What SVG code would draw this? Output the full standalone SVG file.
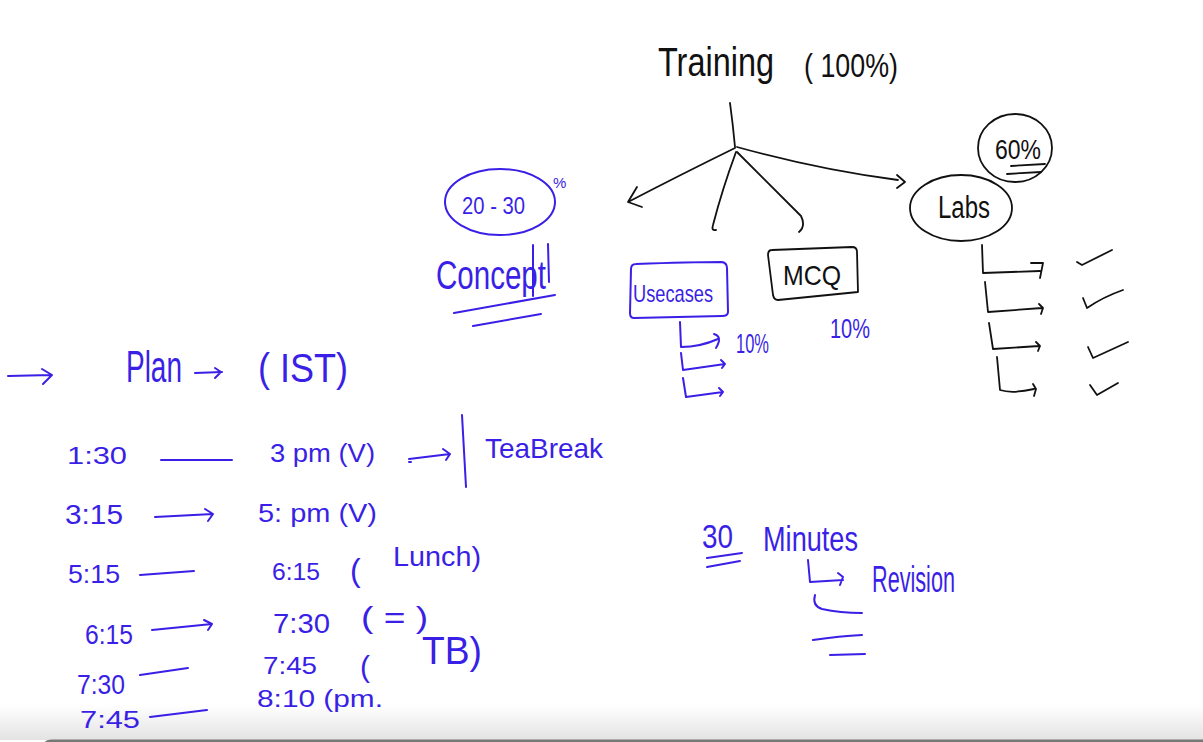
<svg xmlns="http://www.w3.org/2000/svg" width="1203" height="742" viewBox="0 0 1203 742">
<defs>
<linearGradient id="shade" x1="0" y1="0" x2="0" y2="1">
<stop offset="0" stop-color="#ffffff"/>
<stop offset="1" stop-color="#e3e3e3"/>
</linearGradient>
<style>
.b{fill:none;stroke:#3a1fe6;stroke-width:2;stroke-linecap:round;stroke-linejoin:round}
.k{fill:none;stroke:#111;stroke-width:1.8;stroke-linecap:round;stroke-linejoin:round}
.tb{fill:#3a1fe6;font-family:"Liberation Sans",Arial,sans-serif}
.tk{fill:#111;font-family:"Liberation Sans",Arial,sans-serif}
</style>
</defs>
<rect width="1203" height="742" fill="#ffffff"/>
<rect x="0" y="705" width="1203" height="35" fill="url(#shade)"/>
<path d="M45 742 Q46 739.5 52 739.5 L1203 739.5 L1203 742 Z" fill="#777"/>

<g id="training">
<text class="tk" x="658" y="76" font-size="40" textLength="116" lengthAdjust="spacingAndGlyphs">Training</text>
<text class="tk" x="804" y="77" font-size="34" textLength="94" lengthAdjust="spacingAndGlyphs">( 100%)</text>
</g>

<g id="labs">
<ellipse class="k" cx="961" cy="208" rx="51" ry="33"/>
<text class="tk" x="938" y="218" font-size="31" textLength="52" lengthAdjust="spacingAndGlyphs">Labs</text>
</g>

<g id="pct60">
<ellipse class="k" cx="1015" cy="148" rx="37" ry="34"/>
<text class="tk" x="995" y="159" font-size="28" textLength="46" lengthAdjust="spacingAndGlyphs">60%</text>
<path class="k" d="M1011 166 L1045 164 M1007 174 L1041 172"/>
</g>

<g id="usecases">
<path class="b" d="M636 264 Q690 262 722 262 Q727 263 727 268 L728 312 Q728 316 722 316 L634 318 Q630 318 630 313 L631 269 Q631 264 636 264 Z"/>
<text class="tb" x="633" y="302" font-size="24" textLength="80" lengthAdjust="spacingAndGlyphs">Usecases</text>
<text class="tb" x="736" y="353" font-size="27" textLength="33" lengthAdjust="spacingAndGlyphs">10%</text>
</g>

<g id="mcq">
<path class="k" d="M772 250 L852 247 Q857 247 857 252 L858 292 L778 300 Q774 300 773 295 L768 255 Q768 250 772 250 Z"/>
<text class="tk" x="783" y="285" font-size="28" textLength="58" lengthAdjust="spacingAndGlyphs">MCQ</text>
<text class="tb" x="830" y="338" font-size="28" textLength="40" lengthAdjust="spacingAndGlyphs">10%</text>
</g>

<g id="concept">
<ellipse class="b" cx="500" cy="202" rx="55" ry="33"/>
<text class="tb" x="462" y="214" font-size="24" textLength="63" lengthAdjust="spacingAndGlyphs">20 - 30</text>
<text class="tb" x="553" y="188" font-size="15">%</text>
<text class="tb" x="436" y="289" font-size="40" textLength="110" lengthAdjust="spacingAndGlyphs">Concept</text>
<path class="b" d="M533 245 L533 296 M548 244 L549 282 M454 313 L555 295 M473 326 L541 314"/>
</g>

<g id="plan">
<text class="tb" x="126" y="382" font-size="44" textLength="56" lengthAdjust="spacingAndGlyphs">Plan</text>
<text class="tb" x="258" y="382" font-size="40" textLength="90" lengthAdjust="spacingAndGlyphs">( IST)</text>
</g>

<g id="schedule">
<text class="tb" x="67" y="464" font-size="24" textLength="60" lengthAdjust="spacingAndGlyphs">1:30</text>
<text class="tb" x="270" y="462" font-size="26" textLength="105" lengthAdjust="spacingAndGlyphs">3 pm (V)</text>
<text class="tb" x="485" y="458" font-size="28" textLength="118" lengthAdjust="spacingAndGlyphs">TeaBreak</text>
<text class="tb" x="65" y="524" font-size="28" textLength="58" lengthAdjust="spacingAndGlyphs">3:15</text>
<text class="tb" x="258" y="522" font-size="26" textLength="119" lengthAdjust="spacingAndGlyphs">5: pm (V)</text>
<text class="tb" x="68" y="583" font-size="25" textLength="52" lengthAdjust="spacingAndGlyphs">5:15</text>
<text class="tb" x="272" y="580" font-size="24" textLength="48" lengthAdjust="spacingAndGlyphs">6:15</text>
<text class="tb" x="350" y="581" font-size="32">(</text>
<text class="tb" x="393" y="566" font-size="28" textLength="88" lengthAdjust="spacingAndGlyphs">Lunch)</text>
<text class="tb" x="85" y="644" font-size="28" textLength="48" lengthAdjust="spacingAndGlyphs">6:15</text>
<text class="tb" x="273" y="633" font-size="27" textLength="57" lengthAdjust="spacingAndGlyphs">7:30</text>
<text class="tb" x="361" y="628" font-size="30" textLength="67" lengthAdjust="spacingAndGlyphs">( = )</text>
<text class="tb" x="77" y="694" font-size="28" textLength="48" lengthAdjust="spacingAndGlyphs">7:30</text>
<text class="tb" x="263" y="674" font-size="24" textLength="54" lengthAdjust="spacingAndGlyphs">7:45</text>
<text class="tb" x="360" y="677" font-size="30">(</text>
<text class="tb" x="422" y="664" font-size="38" textLength="60" lengthAdjust="spacingAndGlyphs">TB)</text>
<text class="tb" x="80" y="728" font-size="24" textLength="60" lengthAdjust="spacingAndGlyphs">7:45</text>
<text class="tb" x="257" y="707" font-size="23" textLength="126" lengthAdjust="spacingAndGlyphs">8:10 (pm.</text>
</g>

<g id="minutes">
<text class="tb" x="702" y="548" font-size="34" textLength="31" lengthAdjust="spacingAndGlyphs">30</text>
<text class="tb" x="763" y="551" font-size="35" textLength="95" lengthAdjust="spacingAndGlyphs">Minutes</text>
<path class="b" d="M707 558 L742 553 M707 567 L740 561"/>
<text class="tb" x="872" y="592" font-size="36" textLength="83" lengthAdjust="spacingAndGlyphs">Revision</text>
</g>

<g id="connectors">
<path class="k" d="M730 103 Q733 125 735 147"/>
<path class="k" d="M735 148 Q680 175 630 201 M637 187 L628 202 L642 207"/>
<path class="k" d="M736 152 Q722 190 713 225 Q711 231 716 230"/>
<path class="k" d="M737 152 Q770 185 801 216 Q806 226 799 232"/>
<path class="k" d="M737 147 Q820 170 898 180 M897 175 L905 182 L897 188"/>
<path class="k" d="M982 245 L983 273 L1040 271 M1031 263 L1043 263 L1040 278"/>
<path class="k" d="M985 282 L988 312 L1042 308 M1039 304 L1043 308 L1041 314"/>
<path class="k" d="M989 323 L993 349 L1039 346 M1036 342 L1040 346 L1038 351"/>
<path class="k" d="M997 357 L1000 390 Q1012 394 1034 389 M1033 384 L1036 389 L1034 396"/>
<path class="k" d="M1077 262 L1082 265 L1112 250"/>
<path class="k" d="M1083 298 L1087 308 Q1103 297 1123 290"/>
<path class="k" d="M1088 347 L1093 358 L1128 342"/>
<path class="k" d="M1090 385 L1097 395 L1118 383"/>
<path class="b" d="M680 322 L681 347 Q700 347 718 339 M714 334 Q720 336 719 341 Q718 345 716 348"/>
<path class="b" d="M681 353 L683 370 L725 364 M721 360 L725 364 L722 368"/>
<path class="b" d="M683 378 L686 397 L723 392 M719 388 L723 392 L720 396"/>
<path class="b" d="M8 376 L51 375 M42 369 L52 375 L43 384"/>
<path class="b" d="M195 373 L222 372 M215 368 L221 372 L215 378"/>
<path class="b" d="M161 460 L232 460"/>
<path class="b" d="M409 459 L450 454 M443 449 L450 454 L446 460 M409 462 L411 462"/>
<path class="b" d="M462 415 L466 487"/>
<path class="b" d="M155 517 L213 514 M205 509 L213 514 L208 521"/>
<path class="b" d="M140 575 L194 571"/>
<path class="b" d="M152 630 L212 624 M204 620 L212 624 L208 630"/>
<path class="b" d="M140 675 L188 668"/>
<path class="b" d="M150 717 L207 710"/>
<path class="b" d="M808 560 L810 582 L843 580 M838 573 L843 577 L840 585"/>
<path class="b" d="M815 595 Q812 606 822 609 Q840 613 862 613"/>
<path class="b" d="M813 640 Q840 636 862 635 M830 655 L865 654"/>
</g>
</svg>
